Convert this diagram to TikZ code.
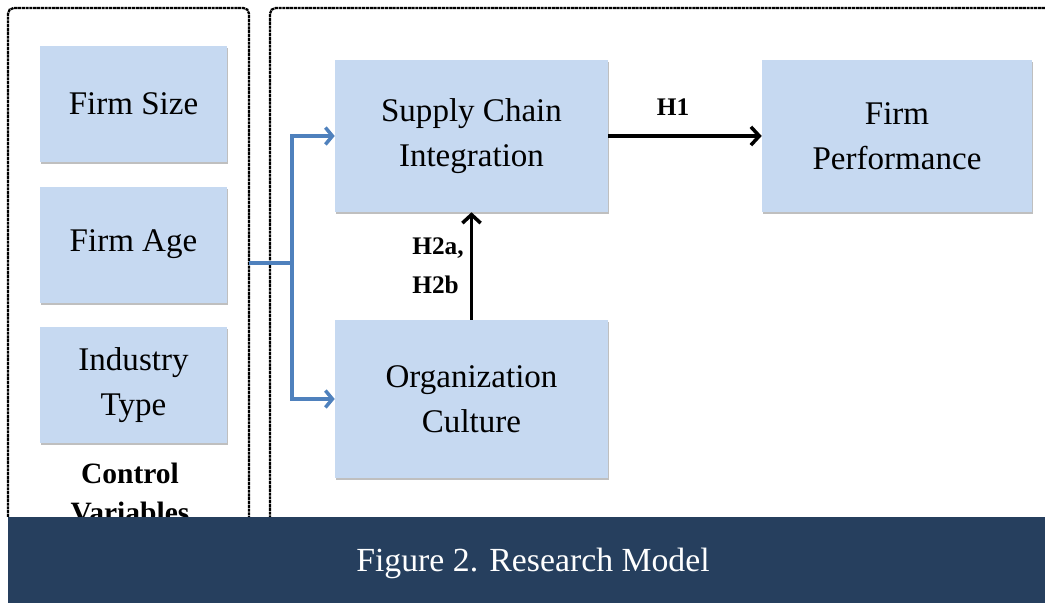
\documentclass[tikz,border=0pt]{standalone}
\usepackage{fontspec}
\setmainfont{Liberation Serif}
\usepackage{tikz}
\definecolor{boxblue}{RGB}{198,217,241}
\definecolor{linkblue}{RGB}{79,129,189}
\definecolor{banner}{RGB}{38,63,94}
\tikzset{
    var/.style={fill=boxblue, minimum width=187*0.025cm, minimum height=116*0.025cm, align=center,
        font=\fontsize{23.5}{32}\selectfont, general shadow={fill=black!25, shadow xshift=0.6pt, shadow yshift=-1.6pt}},
    construct/.style={var, minimum width=273*0.025cm, minimum height=152*0.025cm},
    frame/.style={draw, line width=1.6pt, dash pattern=on 2.2pt off 0.5pt, rounded corners=4pt},
    hyp/.style={-{Straight Barb[length=6pt, width=13pt, line width=2.5pt]}, line width=3pt},
    ctrl/.style={-{Straight Barb[length=5pt, width=12pt, line width=2.5pt]}, line width=3pt, linkblue},
    hlabel/.style={font=\fontsize{18}{28}\selectfont\bfseries, align=left} }
\usetikzlibrary{positioning, arrows.meta, shadows}

\begin{document}
\begin{tikzpicture}[x=0.025cm, y=0.025cm]
			\useasboundingbox (0,0) rectangle (1045,603);
			% frames
			\draw[frame] (8,86) -- (8,595) -- (249,595) -- (249,86);
			\draw[frame] (1060,595) -- (270,595) -- (270,86);
			% ----
			\node[var] (size) at (133.5,499) {Firm Size};
			\node[var, below = 0.6cm of size] (age) {Firm Age};
			\node[var, below = 0.6cm of age] (type) {Industry\\Type};
			\node[font=\fontsize{21}{28}\selectfont\bfseries, align=center, anchor=north] (cv) at (130,145) {Control\\Variables};
			\node[construct] (sci) at (471.5,467) {Supply Chain\\Integration};
			\node[construct, minimum width=270*0.025cm] (perf) at (897,467) {Firm\\Performance};
			\node[construct, minimum height=158*0.025cm] (cult) at (471.5,204) {Organization\\Culture};
			\coordinate (ctrlout) at (249,340);
			\coordinate (split) at (292,340);
			% ----
			\draw[ctrl] (ctrlout) -- (split) |- (sci.west);
			\draw[ctrl] (split) |- (cult.west);
			\draw[hyp] (sci.east) -- node[hlabel, above=0.35cm, xshift=-0.3cm] (h1) {H1} (perf.west);
			\draw[hyp, line width=2.5pt] (cult.north) -- node[hlabel, left=1pt] (h2) {H2a,\\H2b} (sci.south);
			% caption
			\fill[banner] (8,0) rectangle (1045,86);
			\node[text=white, font=\fontsize{24}{28}\selectfont] (caption) at (533,40) {Figure 2. Research Model};
		\end{tikzpicture}
\end{document}
